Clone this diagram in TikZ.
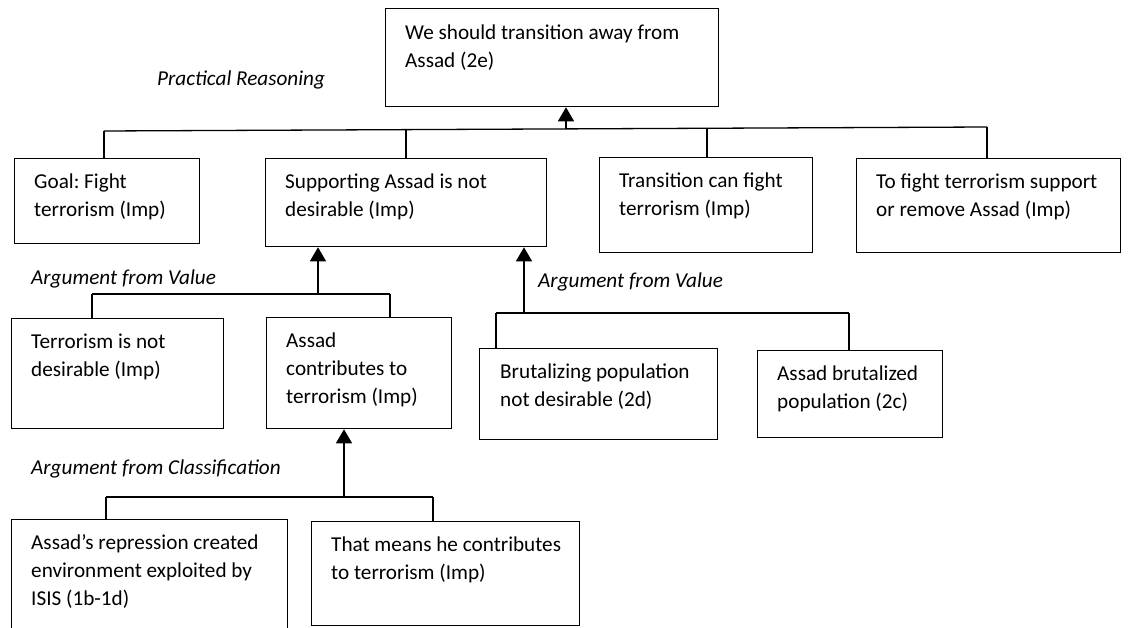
\documentclass[tikz,border=0pt]{standalone}
\usepackage{fontspec}
\setmainfont{Carlito}
\usetikzlibrary{arrows.meta,calc}
\newcommand{\fl}{\rule{0pt}{15pt}}
\frenchspacing
\begin{document}
\frenchspacing
\begin{tikzpicture}[x=1pt,y=-1pt,
  box/.style={draw, line width=1.3pt, inner sep=0pt, anchor=north west},
  txt/.style={anchor=north west, inner sep=0pt, align=left, font=\fontsize{21.2}{28.3}\selectfont},
  lbl/.style={anchor=base west, inner sep=0pt, font=\fontsize{21.2}{28.3}\selectfont\itshape},
  ln/.style={line width=1.3pt},
  arr/.style={line width=1.3pt, -{Triangle[width=16pt,length=14pt]}}]
\useasboundingbox (0,0) rectangle (1128,628);
\clip (0,0) rectangle (1128,628);

% boxes
\node[box, minimum width=333pt, minimum height=98pt] (top) at (385,8) {};
\node[box, minimum width=185pt, minimum height=85pt] (goal) at (14,158) {};
\node[box, minimum width=281pt, minimum height=88pt] (supp) at (265,158) {};
\node[box, minimum width=213pt, minimum height=95pt] (trans) at (599,157) {};
\node[box, minimum width=264pt, minimum height=94pt] (tofight) at (856,158) {};
\node[box, minimum width=212pt, minimum height=110pt] (terr) at (11,318) {};
\node[box, minimum width=185pt, minimum height=111pt] (acon) at (266,317) {};
\node[box, minimum width=238pt, minimum height=91pt] (brut) at (479,348) {};
\node[box, minimum width=185pt, minimum height=87pt] (abrut) at (757,350) {};
\node[box, minimum width=276pt, minimum height=140pt] (rep) at (11,519) {};
\node[box, minimum width=268pt, minimum height=104pt] (means) at (311,521) {};

% box texts
\node[txt] (ttop) at (405,24) {\fl We should transition away from\\Assad (2e)};
\node[txt] (tgoal) at (34,173) {\fl Goal: Fight\\terrorism (Imp)};
\node[txt] (tsupp) at (285,173) {\fl Supporting Assad is not\\desirable (Imp)};
\node[txt] (ttrans) at (619,172) {\fl Transition can fight\\terrorism (Imp)};
\node[txt] (ttofight) at (876,173) {\fl To fight terrorism support\\or remove Assad (Imp)};
\node[txt] (tterr) at (31,333) {\fl Terrorism is not\\desirable (Imp)};
\node[txt] (tacon) at (286,332) {\fl Assad\\contributes to\\terrorism (Imp)};
\node[txt] (tbrut) at (500,363) {\fl Brutalizing population\\not desirable (2d)};
\node[txt] (tabrut) at (777,365) {\fl Assad brutalized\\population (2c)};
\node[txt] (trep) at (31,534) {\fl Assad’s repression created\\environment exploited by\\ISIS (1b-1d)};
\node[txt] (tmeans) at (331,536) {\fl That means he contributes\\to terrorism (Imp)};

% scheme labels
\node[lbl] (lpr) at (157,86) {Practical Reasoning};
\node[lbl] (lv1) at (31,285) {Argument from Value};
\node[lbl] (lv2) at (538,288) {Argument from Value};
\node[lbl] (lcl) at (31,474) {Argument from Classification};

% bar 1
\coordinate (b1l) at (104,131);
\coordinate (b1r) at (987,127);
\coordinate (b1s) at (406,129.6);
\coordinate (b1a) at (566,128.9);
\coordinate (b1t) at (707,128.3);
\draw[ln] (b1l) -- (b1r);
\draw[ln] (b1l) -- (b1l |- goal.north);
\draw[ln] (b1s) -- (b1s |- supp.north);
\draw[ln] (b1t) -- (b1t |- trans.north);
\draw[ln] (b1r) -- (b1r |- tofight.north);
\draw[arr] (b1a) -- (b1a |- top.south);

% bar 2
\coordinate (b2l) at (92,294);
\coordinate (b2r) at (390,294);
\coordinate (b2a) at (318,294);
\draw[ln] (b2l) -- (b2r);
\draw[ln] (b2l) -- (b2l |- terr.north);
\draw[ln] (b2r) -- (b2r |- acon.north);
\draw[arr] (b2a) -- (b2a |- supp.south);

% bar 3
\coordinate (b3l) at (496,313);
\coordinate (b3r) at (849,313);
\coordinate (b3a) at (524,313);
\draw[ln] (b3l) -- (b3r);
\draw[ln] (b3l) -- (b3l |- brut.north);
\draw[ln] (b3r) -- (b3r |- abrut.north);
\draw[arr] (b3a) -- (b3a |- supp.south);

% bar 4
\coordinate (b4l) at (106,497);
\coordinate (b4r) at (433,497);
\coordinate (b4a) at (344,497);
\draw[ln] (b4l) -- (b4r);
\draw[ln] (b4l) -- (b4l |- rep.north);
\draw[ln] (b4r) -- (b4r |- means.north);
\draw[arr] (b4a) -- (b4a |- acon.south);
\end{tikzpicture}
\end{document}
